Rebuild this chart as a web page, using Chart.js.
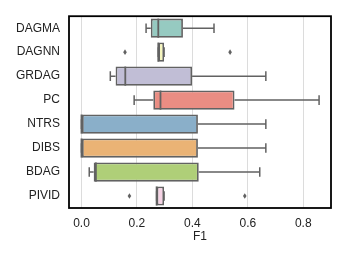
<!DOCTYPE html>
<html>
<head>
<meta charset="utf-8">
<script src="https://cdn.jsdelivr.net/npm/chart.js@4.4.1/dist/chart.umd.min.js"></script>
<style>
html,body{margin:0;padding:0;background:#fff;}
#wrap{width:345px;height:259px;position:relative;}
</style>
</head>
<body>
<div id="wrap"><canvas id="c" width="345" height="259"></canvas></div>
<script>
const categories = ['DAGMA','DAGNN','GRDAG','PC','NTRS','DIBS','BDAG','PIVID'];
const whiskerLow  = [0.233, 0.277, 0.104, 0.190, 0.000, 0.000, 0.028, 0.271];
const q1          = [0.250, 0.277, 0.123, 0.259, 0.000, 0.000, 0.044, 0.271];
const median      = [0.277, 0.277, 0.158, 0.285, 0.000, 0.000, 0.052, 0.271];
const q3          = [0.366, 0.298, 0.399, 0.552, 0.420, 0.420, 0.423, 0.298];
const whiskerHigh = [0.478, 0.298, 0.665, 0.857, 0.665, 0.665, 0.643, 0.298];
const outliers    = [[], [0.157, 0.536], [], [], [], [], [], [0.173, 0.589]];
const xTicks = [0.0, 0.2, 0.4, 0.6, 0.8];
const boxColors = ['rgb(150,202,193)','rgb(246,246,189)','rgb(193,190,214)','rgb(234,141,131)',
                   'rgb(138,175,201)','rgb(234,179,117)','rgb(175,207,120)','rgb(246,211,229)'];
const lineGray = '#626262';
const fontFam = 'Liberation Sans, Arial, sans-serif';

const boxPlugin = {
  id: 'boxparts',
  beforeDatasetsDraw(chart) {
    const {ctx, scales: {x}} = chart;
    const meta = chart.getDatasetMeta(0);
    ctx.save();
    ctx.strokeStyle = lineGray;
    ctx.lineWidth = 1.5;
    categories.forEach((c, i) => {
      const bar = meta.data[i];
      const yc = bar.y, h = bar.height;
      const xl = x.getPixelForValue(whiskerLow[i]);
      const xq1 = x.getPixelForValue(q1[i]);
      const xq3 = x.getPixelForValue(q3[i]);
      const xh = x.getPixelForValue(whiskerHigh[i]);
      ctx.beginPath();
      ctx.moveTo(xl, yc); ctx.lineTo(xq1, yc);
      ctx.moveTo(xq3, yc); ctx.lineTo(xh, yc);
      ctx.moveTo(xl, yc - h/4); ctx.lineTo(xl, yc + h/4);
      ctx.moveTo(xh, yc - h/4); ctx.lineTo(xh, yc + h/4);
      ctx.stroke();
    });
    ctx.restore();
  },
  afterDatasetsDraw(chart) {
    const {ctx, scales: {x}, chartArea} = chart;
    const meta = chart.getDatasetMeta(0);
    ctx.save();
    ctx.strokeStyle = lineGray;
    ctx.lineWidth = 1.8;
    categories.forEach((c, i) => {
      const bar = meta.data[i];
      const yc = bar.y, h = bar.height;
      const xm = x.getPixelForValue(median[i]);
      ctx.beginPath();
      ctx.moveTo(xm, yc - h/2); ctx.lineTo(xm, yc + h/2);
      ctx.stroke();
      ctx.fillStyle = lineGray;
      outliers[i].forEach(v => {
        const px = x.getPixelForValue(v);
        ctx.beginPath();
        ctx.moveTo(px, yc - 2.8);
        ctx.lineTo(px + 1.8, yc);
        ctx.lineTo(px, yc + 2.8);
        ctx.lineTo(px - 1.8, yc);
        ctx.closePath();
        ctx.fill();
      });
    });
    ctx.strokeStyle = '#000';
    ctx.lineWidth = 1.8;
    ctx.strokeRect(chartArea.left, chartArea.top, chartArea.right - chartArea.left, chartArea.bottom - chartArea.top);
    ctx.restore();
  }
};

new Chart(document.getElementById('c'), {
  type: 'bar',
  data: {
    labels: categories,
    datasets: [{
      data: categories.map((c, i) => [q1[i], q3[i]]),
      backgroundColor: boxColors,
      borderColor: lineGray,
      borderWidth: 1.8,
      borderSkipped: false,
      categoryPercentage: 1.0,
      barPercentage: 0.8
    }]
  },
  options: {
    indexAxis: 'y',
    responsive: false,
    animation: false,
    devicePixelRatio: 1,
    layout: {padding: {left: 0, right: 14, top: 14, bottom: 15}},
    plugins: {legend: {display: false}, tooltip: {enabled: false}},
    scales: {
      x: {
        type: 'linear',
        min: -0.045,
        max: 0.90,
        afterBuildTicks(scale) { scale.ticks = xTicks.map(v => ({value: v})); },
        afterFit(scale) { scale.height = 36; },
        grid: {color: '#dcdcdc', lineWidth: 1, drawTicks: false},
        border: {display: false},
        ticks: {
          padding: 8,
          color: '#222',
          font: {family: fontFam, size: 12},
          callback: v => Number(v).toFixed(1)
        },
        title: {
          display: true,
          text: 'F1',
          color: '#222',
          padding: {top: 0, bottom: 0},
          font: {family: fontFam, size: 12}
        }
      },
      y: {
        type: 'category',
        afterFit(scale) { scale.width = 69; },
        grid: {display: false, drawTicks: false},
        border: {display: false},
        ticks: {
          padding: 9,
          color: '#222',
          font: {family: fontFam, size: 12}
        }
      }
    }
  },
  plugins: [boxPlugin]
});
</script>
</body>
</html>
